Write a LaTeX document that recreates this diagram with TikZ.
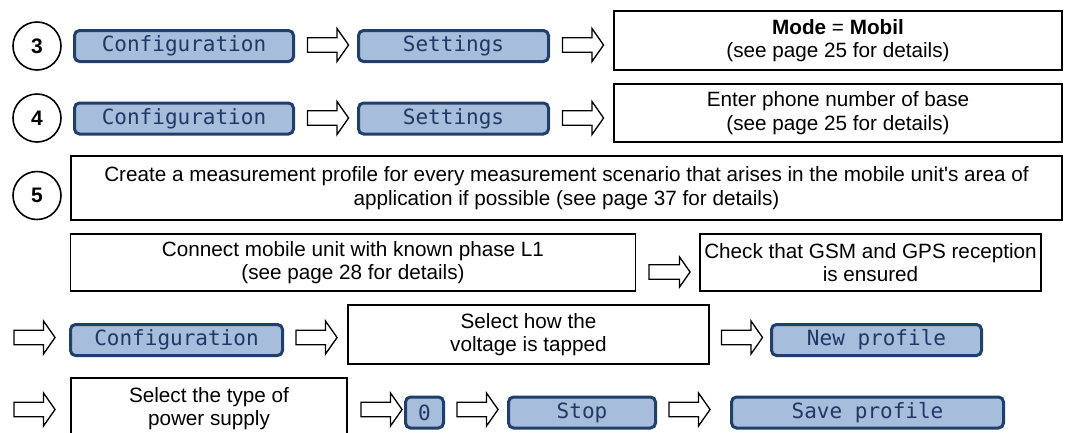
\documentclass[tikz,border=0pt]{standalone}
\usepackage{fontspec}
\setmainfont{Liberation Sans}
\newfontfamily\btnmono{DejaVu Sans Mono}
\newcommand{\straightapos}{\XeTeXglyph\XeTeXglyphindex "quotesingle"\relax}
\usetikzlibrary{shapes.arrows}
\definecolor{btnfill}{HTML}{A7BDDC}
\definecolor{btnline}{HTML}{213F6B}
\definecolor{btntext}{HTML}{1F3864}
\tikzset{
  btn/.style={draw=btnline, line width=3pt, fill=btnfill, rounded corners=5pt,
    text=btntext, font=\btnmono\fontsize{21}{24}\selectfont, inner sep=0pt,
    minimum height=31pt},
  txtbox/.style={draw=black, line width=1.6pt, inner sep=0pt, align=center,
    font=\fontsize{20.7}{23.5}\selectfont},
  numcirc/.style={circle, draw=black, line width=1.6pt, minimum size=48pt, inner sep=0pt,
    font=\bfseries\fontsize{21}{24}\selectfont},
  blockarrow/.style={single arrow, draw=black, line width=1.3pt, fill=white,
    minimum height=41pt, minimum width=33pt, inner xsep=0pt, inner ysep=6.5pt,
    single arrow head extend=9pt, single arrow tip angle=110}
}
\begin{document}
\begin{tikzpicture}[x=1pt,y=-1pt]
\useasboundingbox (0,0) rectangle (1073,432);
% row 3
\node[numcirc] (c3) at (37,46) {3};
\node[btn, minimum width=219pt] (cfg3) at (184,46) {Configuration};
\node[blockarrow] (a31) at (325.5,45) {};
\node[btn, minimum width=190pt] (set3) at (453.5,46) {Settings};
\node[blockarrow] (a32) at (580.5,45) {};
\node[txtbox, minimum width=448pt, minimum height=59pt] (mode) at (838,40.5)
  {\textbf{Mode} = \textbf{Mobil}\\(see page 25 for details)};
% row 4
\node[numcirc] (c4) at (37,118) {4};
\node[btn, minimum width=219pt] (cfg4) at (184,118.5) {Configuration};
\node[blockarrow] (a41) at (325.5,118) {};
\node[btn, minimum width=190pt] (set4) at (453.5,118.5) {Settings};
\node[blockarrow] (a42) at (580.5,118) {};
\node[txtbox, minimum width=448pt, minimum height=58pt] (phone) at (838,113)
  {Enter phone number of base\\(see page 25 for details)};
% row 5
\node[numcirc] (c5) at (37,195.5) {5};
\node[txtbox, minimum width=991pt, minimum height=64pt] (prof) at (566.5,188)
  {Create a measurement profile for every measurement scenario that arises in the mobile unit\straightapos s area of\\application if possible (see page 37 for details)};
\node[txtbox, minimum width=565pt, minimum height=57pt] (conn) at (353,262.5)
  {Connect mobile unit with known phase L1\\(see page 28 for details)};
\node[blockarrow, minimum width=30pt, single arrow head extend=7.5pt] (a51) at (667,272) {};
\node[txtbox, minimum width=341pt, minimum height=57pt] (gsm) at (870.5,262.5)
  {Check that GSM and GPS reception\\is ensured};
% row 6
\node[blockarrow] (a61) at (32,337.5) {};
\node[btn, minimum width=212pt] (cfg6) at (176.5,340) {Configuration};
\node[blockarrow] (a62) at (314,337.5) {};
\node[txtbox, minimum width=361pt, minimum height=59pt] (volt) at (528.5,334.5)
  {Select how the\\voltage is tapped};
\node[blockarrow] (a63) at (739.5,337.5) {};
\node[btn, minimum width=210pt] (newp) at (876.5,340) {New profile};
% row 7
\node[blockarrow] (a71) at (32,409.5) {};
\node[txtbox, minimum width=276pt, minimum height=61pt] (supp) at (209,408.5)
  {Select the type of\\power supply};
\node[blockarrow] (a72) at (379,409.5) {};
\node[btn, minimum width=38pt] (zero) at (424.5,412.5) {0};
\node[blockarrow] (a73) at (475,409.5) {};
\node[btn, minimum width=147pt] (stop) at (582,412.5) {Stop};
\node[blockarrow] (a74) at (687,409.5) {};
\node[btn, minimum width=272pt] (save) at (867.5,412.5) {Save profile};
\end{tikzpicture}
\end{document}
